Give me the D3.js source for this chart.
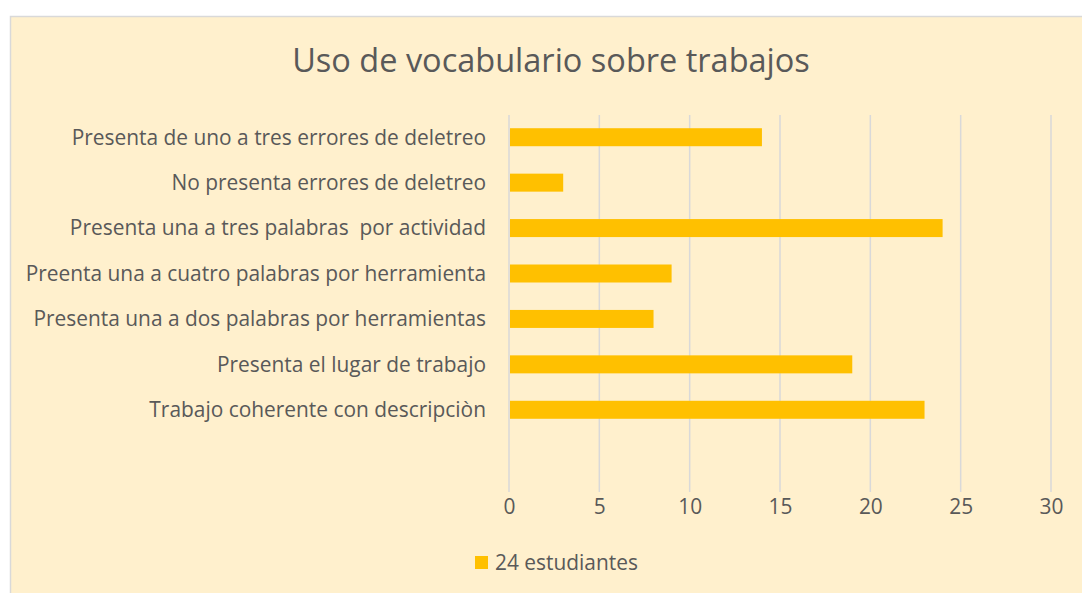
<!DOCTYPE html>
<html><head><meta charset="utf-8">
<script src="https://cdn.jsdelivr.net/npm/d3@7"></script>
<style>body{margin:0;background:#fff;}svg{display:block;}text{white-space:pre;}</style>
</head><body>
<svg id="c" width="1082" height="593"></svg>
<script>
const categories = [
  "Presenta de uno a tres errores de deletreo",
  "No presenta errores de deletreo",
  "Presenta una a tres palabras  por actividad",
  "Preenta una a cuatro palabras por herramienta",
  "Presenta una a dos palabras por herramientas",
  "Presenta el lugar de trabajo",
  "Trabajo coherente con descripciòn"
];
const values = [14, 3, 24, 9, 8, 19, 23];
const xTicks = [0, 5, 10, 15, 20, 25, 30];
const seriesName = "24 estudiantes";
const title = "Uso de vocabulario sobre trabajos";

const svg = d3.select("#c");
const font = "'Open Sans', sans-serif";
const textColor = "#595959";
const fs = 20.9;

svg.append("rect").attr("x", 10.5).attr("y", 16.5).attr("width", 1080).attr("height", 580)
  .attr("fill", "#FFF0CD").attr("stroke", "#D9D9D9").attr("stroke-width", 1.5);

const x = d3.scaleLinear().domain([0, 30]).range([509, 1051]);
const y = d3.scaleBand().domain(categories).range([114.5, 432.5]).padding(0);
const barH = 18;

// gridlines
svg.append("g").selectAll("line").data(xTicks).join("line")
  .attr("x1", d => x(d)).attr("x2", d => x(d))
  .attr("y1", 115).attr("y2", 492)
  .attr("stroke", "#D9D9D9").attr("stroke-width", 1.5);

// bars
svg.append("g").selectAll("rect").data(values).join("rect")
  .attr("x", x(0) + 1)
  .attr("y", (d, i) => y(categories[i]) + y.bandwidth() / 2 - barH / 2)
  .attr("width", d => x(d) - x(0) - 1)
  .attr("height", barH)
  .attr("fill", "#FFC000");

// category labels
svg.append("g").selectAll("text").data(categories).join("text")
  .attr("x", 486)
  .attr("y", d => y(d) + y.bandwidth() / 2)
  .attr("dy", "0.35em")
  .attr("text-anchor", "end")
  .attr("font-family", font).attr("font-size", fs)
  .attr("fill", textColor)
  .text(d => d);

// x axis ticks
const xAxis = d3.axisBottom(x).tickValues(xTicks).tickSize(0).tickPadding(0);
const gx = svg.append("g").attr("transform", "translate(0,499.5)").call(xAxis);
gx.select(".domain").remove();
gx.selectAll("text").attr("font-family", font).attr("font-size", fs).attr("fill", textColor);

// title
svg.append("text").attr("x", 551).attr("y", 72).attr("text-anchor", "middle")
  .attr("font-family", font).attr("font-size", 32.5).attr("fill", textColor).text(title);

// legend
svg.append("rect").attr("x", 475).attr("y", 556).attr("width", 13).attr("height", 13).attr("fill", "#FFC000");
svg.append("text").attr("x", 495).attr("y", 562.5).attr("dy", "0.35em")
  .attr("font-family", font).attr("font-size", fs).attr("fill", textColor).text(seriesName);
</script>
</body></html>
